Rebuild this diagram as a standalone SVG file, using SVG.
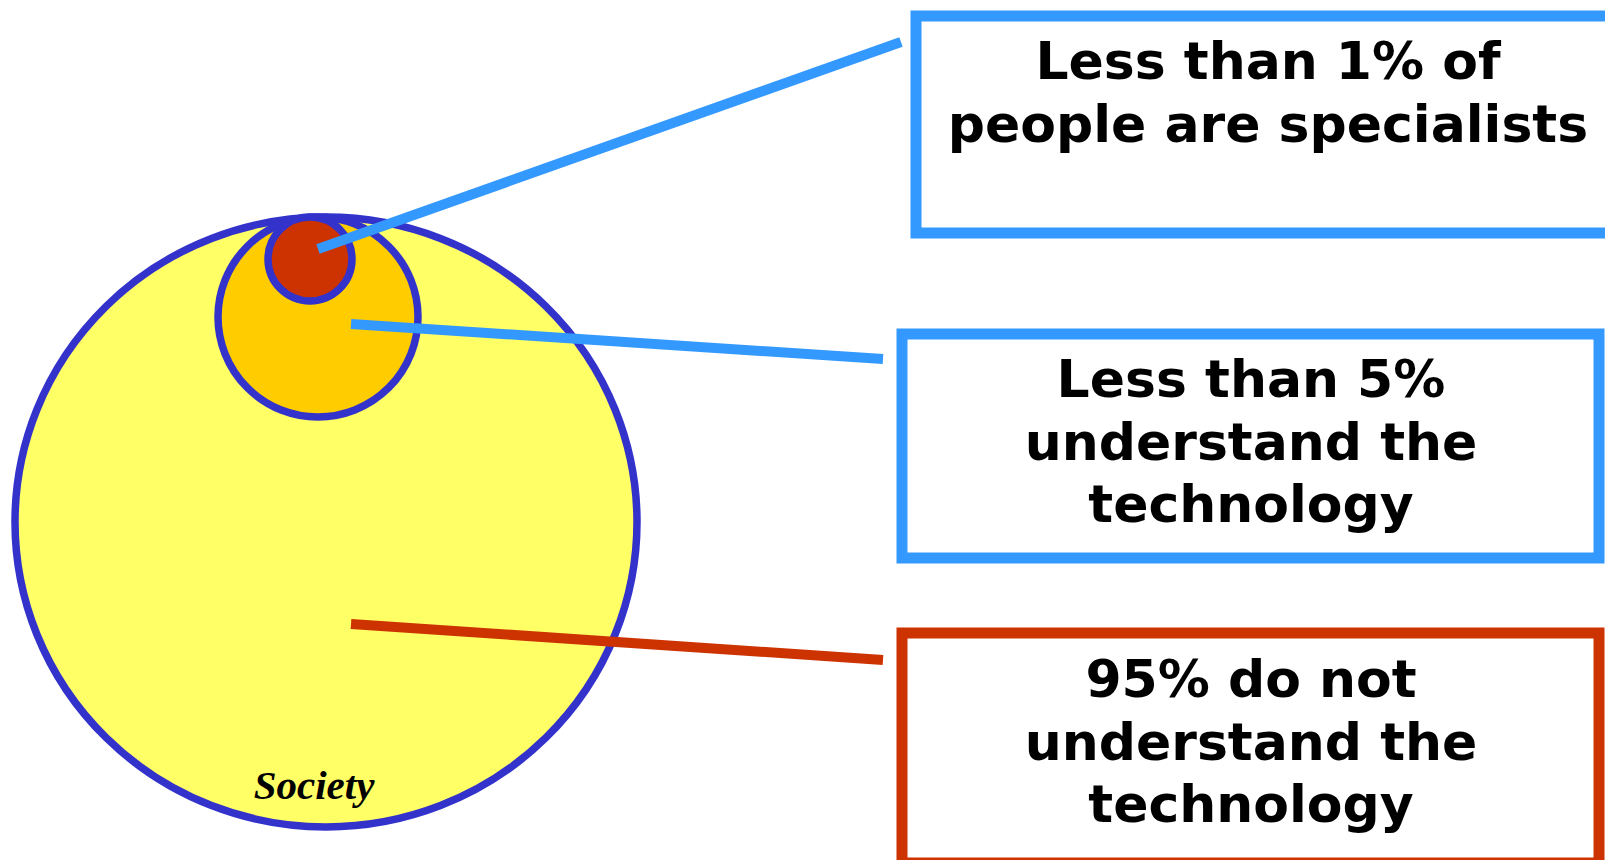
<svg xmlns="http://www.w3.org/2000/svg" width="1605" height="860" viewBox="0 0 1605 860">
<style>
.ring{stroke:#3333CC;stroke-width:7.5}
.box{fill:#FFFFFF;stroke-width:11}
.lbl{font-family:"DejaVu Sans","Verdana",sans-serif;font-weight:bold;font-size:52px;fill:#000;text-anchor:middle}
.conn{fill:none;stroke-width:10;stroke-linecap:butt}
</style>
<rect width="1605" height="860" fill="#FFFFFF"/>
<g id="society">
<ellipse class="ring" cx="326" cy="522" rx="311" ry="305" fill="#FFFF66"/>
<text x="314" y="799" font-family="Liberation Serif, serif" font-style="italic" font-weight="bold" font-size="41" text-anchor="middle" fill="#000">Society</text>
</g>
<g id="understand">
<circle class="ring" cx="318" cy="317" r="100" fill="#FFCC00"/>
</g>
<g id="specialists">
<circle class="ring" cx="310" cy="259" r="42" fill="#CC3300"/>
</g>
<g id="box1">
<rect class="box" x="916" y="16" width="700" height="217" stroke="#3399FF"/>
<text class="lbl" x="1268" y="79">Less than 1% of</text>
<text class="lbl" x="1268" y="142">people are specialists</text>
</g>
<g id="box2">
<rect class="box" x="902" y="334" width="697" height="224" stroke="#3399FF"/>
<text class="lbl" x="1251" y="397">Less than 5%</text>
<text class="lbl" x="1251" y="460">understand the</text>
<text class="lbl" x="1251" y="522">technology</text>
</g>
<g id="box3">
<rect class="box" x="902" y="633" width="697" height="230" stroke="#CC3300"/>
<text class="lbl" x="1251" y="697">95% do not</text>
<text class="lbl" x="1251" y="760">understand the</text>
<text class="lbl" x="1251" y="822">technology</text>
</g>
<g id="connectors">
<line class="conn" x1="318" y1="249" x2="901" y2="42" stroke="#3399FF"/>
<line class="conn" x1="351" y1="324" x2="883" y2="359" stroke="#3399FF"/>
<line class="conn" x1="351" y1="624" x2="883" y2="660" stroke="#CC3300"/>
</g>
</svg>
